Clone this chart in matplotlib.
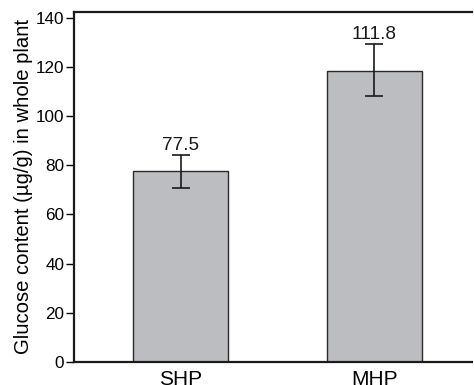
import numpy as np
from matplotlib import pyplot as plt

# Glucose content per group
groups = ['SHP', 'MHP']
means = [77.7, 118.3]
err_low = [6.8, 10.3]
err_high = [6.5, 11.1]
value_labels = ['77.5', '111.8']

plt.rcParams['font.family'] = ['Liberation Sans', 'DejaVu Sans']
plt.rcParams['font.size'] = 12

fig = plt.figure(figsize=(4.74, 3.85), dpi=100)
ax = fig.add_axes([0.156, 0.060, 0.840, 0.909])

x = np.arange(len(groups))
ax.bar(x, means, width=0.49, color='#bcbdc0', edgecolor='#2a2a2a', linewidth=1.0,
       yerr=[err_low, err_high], capsize=6.5,
       error_kw=dict(ecolor='#1a1a1a', elinewidth=1.2, capthick=1.2))

# value labels just above the error caps
for xi, m, eh, lab in zip(x, means, err_high, value_labels):
    ax.text(xi, m + eh + 2, lab, ha='center', va='baseline', fontsize=13.7, color='#1a1a1a')

ax.set_xlim(-0.552, 1.505)
ax.set_ylim(0, 142.4)
ax.set_yticks(np.arange(0, 141, 20))
ax.set_xticks(x)
ax.set_xticklabels(groups)
ax.tick_params(axis='x', length=0, pad=5.5, labelsize=15)
ax.tick_params(axis='y', length=6, width=1.0, pad=1, labelsize=12.3)
ax.set_ylabel('Glucose content (µg/g) in whole plant', fontsize=14.6, labelpad=2)

ax.spines['right'].set_visible(False)
for s in ['left', 'top', 'bottom']:
    ax.spines[s].set_linewidth(1.6)
    ax.spines[s].set_color('#1a1a1a')

fig.savefig('out.png', dpi=100)
